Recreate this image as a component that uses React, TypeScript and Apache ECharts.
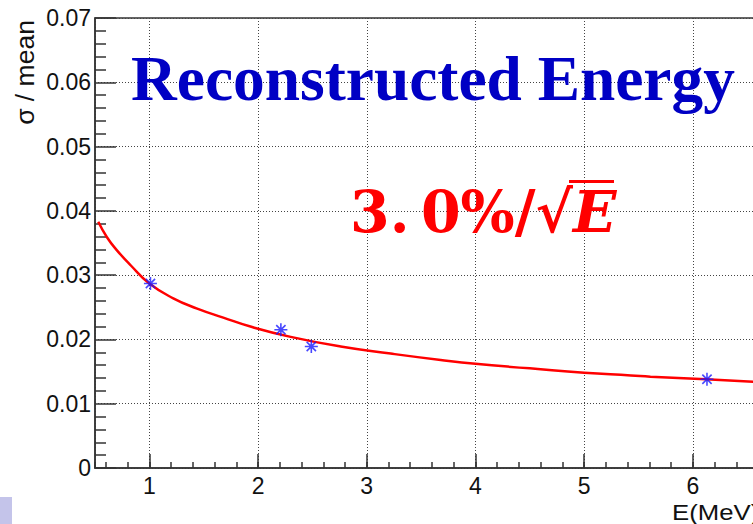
import React, { useEffect, useRef } from "react";
import * as echarts from "echarts";

// Measured resolution at each calibration energy
const pointEnergy = [1.01, 2.21, 2.49, 6.13];
const pointResolution = [0.0287, 0.0215, 0.0189, 0.0138];

// Fitted resolution curve, sampled along the energy axis
const fitEnergy = [0.53, 0.61, 0.7, 0.83, 1.0, 1.22, 1.44, 1.68, 1.93, 2.3, 2.76, 3.22, 3.68, 4.0, 4.5, 5.0, 5.43, 5.61, 6.12, 6.56];
const fitResolution = [0.0383, 0.0359, 0.0339, 0.0315, 0.0287, 0.0264, 0.0248, 0.0234, 0.022, 0.0204, 0.0189, 0.0178, 0.0168, 0.0162, 0.0155, 0.0148, 0.0144, 0.0142, 0.0138, 0.0134];

// Axis ranges
const energyRange = [0.5, 7];
const resolutionRange = [0, 0.07];
const resolutionStep = 0.01;

const titleText = "Reconstructed Energy";
const xTitle = "E(MeV)";
const yTitle = "σ / mean";

const AXIS = "#333";
const SANS = '"Liberation Sans", Arial, sans-serif';
const SERIF = '"Liberation Serif", "Times New Roman", serif';
const MATH = '"DejaVu Serif", serif';

const asterisk = "path://M7,0L7,14M0,7L14,7M2,2L12,12M2,12L12,2";

export default function App() {
  const ref = useRef<HTMLDivElement>(null);

  useEffect(() => {
    if (!ref.current) return;
    const chart = echarts.init(ref.current, undefined, { renderer: "svg" });

    const fitData = fitEnergy.map((e, i) => [e, fitResolution[i]]);
    const pointData = pointEnergy.map((e, i) => [e, pointResolution[i]]);

    const gridLeft = 95;
    const gridTop = 18;
    const gridHeight = 450;
    const pxPerMeV = 108.7;

    chart.setOption({
      animation: false,
      backgroundColor: "#fff",
      grid: {
        left: gridLeft,
        top: gridTop,
        height: gridHeight,
        width: (energyRange[1] - energyRange[0]) * pxPerMeV,
        outerBoundsMode: "none",
        containLabel: false,
        show: true,
        borderColor: AXIS,
        borderWidth: 1.5,
        backgroundColor: "transparent",
      },
      xAxis: [
        {
          type: "value",
          position: "bottom",
          min: energyRange[0],
          max: energyRange[1],
          minInterval: 1,
          maxInterval: 1,
          axisLine: { show: true, onZero: false, lineStyle: { color: AXIS, width: 1.5 } },
          axisTick: { show: true, inside: true, length: 14, lineStyle: { color: AXIS, width: 1.5 } },
          axisLabel: {
            showMinLabel: false,
            showMaxLabel: false,
            margin: 6,
            fontSize: 23,
            fontFamily: SANS,
            color: "#111",
          },
          splitLine: { show: true, lineStyle: { color: "#444", width: 1, type: [1, 2] } },
        },
        {
          type: "value",
          position: "bottom",
          min: energyRange[0],
          max: energyRange[1],
          minInterval: 0.2,
          maxInterval: 0.2,
          splitNumber: 40,
          axisLine: { show: false },
          axisTick: { show: true, inside: true, length: 6, lineStyle: { color: AXIS, width: 1.5 } },
          axisLabel: { show: false },
          splitLine: { show: false },
        },
      ],
      yAxis: {
        type: "value",
        min: resolutionRange[0],
        max: resolutionRange[1],
        interval: resolutionStep,
        axisLine: { show: true, onZero: false, lineStyle: { color: AXIS, width: 1.5 } },
        axisTick: { show: true, inside: true, length: 21, lineStyle: { color: AXIS, width: 1.5 } },
        minorTick: { show: true, splitNumber: 5, length: 11, lineStyle: { color: AXIS, width: 1.5 } },
        axisLabel: { margin: 4, fontSize: 23, fontFamily: SANS, color: "#111" },
        splitLine: { show: true, lineStyle: { color: "#444", width: 1, type: [1, 2] } },
      },
      series: [
        {
          type: "line",
          xAxisIndex: 0,
          data: fitData,
          smooth: true,
          showSymbol: false,
          lineStyle: { color: "#ff0000", width: 2.5 },
          z: 3,
        },
        {
          type: "scatter",
          xAxisIndex: 0,
          data: pointData,
          symbol: asterisk,
          symbolSize: 13,
          itemStyle: { color: "rgba(0,0,0,0)", borderColor: "#1a1aff", borderWidth: 1.6 },
          z: 4,
        },
      ],
      graphic: [
        {
          type: "text",
          x: 131,
          y: 78.5,
          style: {
            text: titleText,
            font: `bold 63.4px ${SERIF}`,
            fill: "#0000c4",
            align: "left",
            verticalAlign: "middle",
          },
          z: 10,
        },
        {
          type: "text",
          x: 350,
          y: 211,
          style: {
            text: "{n|3.\u20090%/}{r|√}{e|E}",
            verticalAlign: "middle",
            align: "left",
            rich: {
              n: { font: `bold 57px ${MATH}`, fill: "#ff0000" },
              r: { font: `bold 57px ${MATH}`, fill: "#ff0000" },
              e: { font: `italic bold 57px ${MATH}`, fill: "#ff0000" },
            },
          },
          z: 10,
        },
        {
          // radical bar over E
          type: "line",
          shape: { x1: 569, y1: 181.5, x2: 614, y2: 181.5 },
          style: { stroke: "#ff0000", lineWidth: 3 },
          z: 10,
        },
        {
          type: "text",
          x: 25,
          y: 72.5,
          rotation: Math.PI / 2,
          style: {
            text: yTitle,
            font: `26.5px ${SANS}`,
            fill: "#111",
            align: "center",
            verticalAlign: "middle",
          },
        },
        {
          type: "text",
          x: 672,
          y: 512,
          scaleX: 1.17,
          style: {
            text: xTitle,
            font: `22px ${SANS}`,
            fill: "#111",
            align: "left",
            verticalAlign: "middle",
          },
        },
        {
          type: "rect",
          shape: { x: 0, y: 497, width: 12, height: 27 },
          style: { fill: "#c4c4ea" },
        },
      ],
    });

    return () => chart.dispose();
  }, []);

  return (
    <div
      ref={ref}
      style={{ position: "fixed", left: 0, top: 0, width: 753, height: 524, overflow: "hidden" }}
    />
  );
}
